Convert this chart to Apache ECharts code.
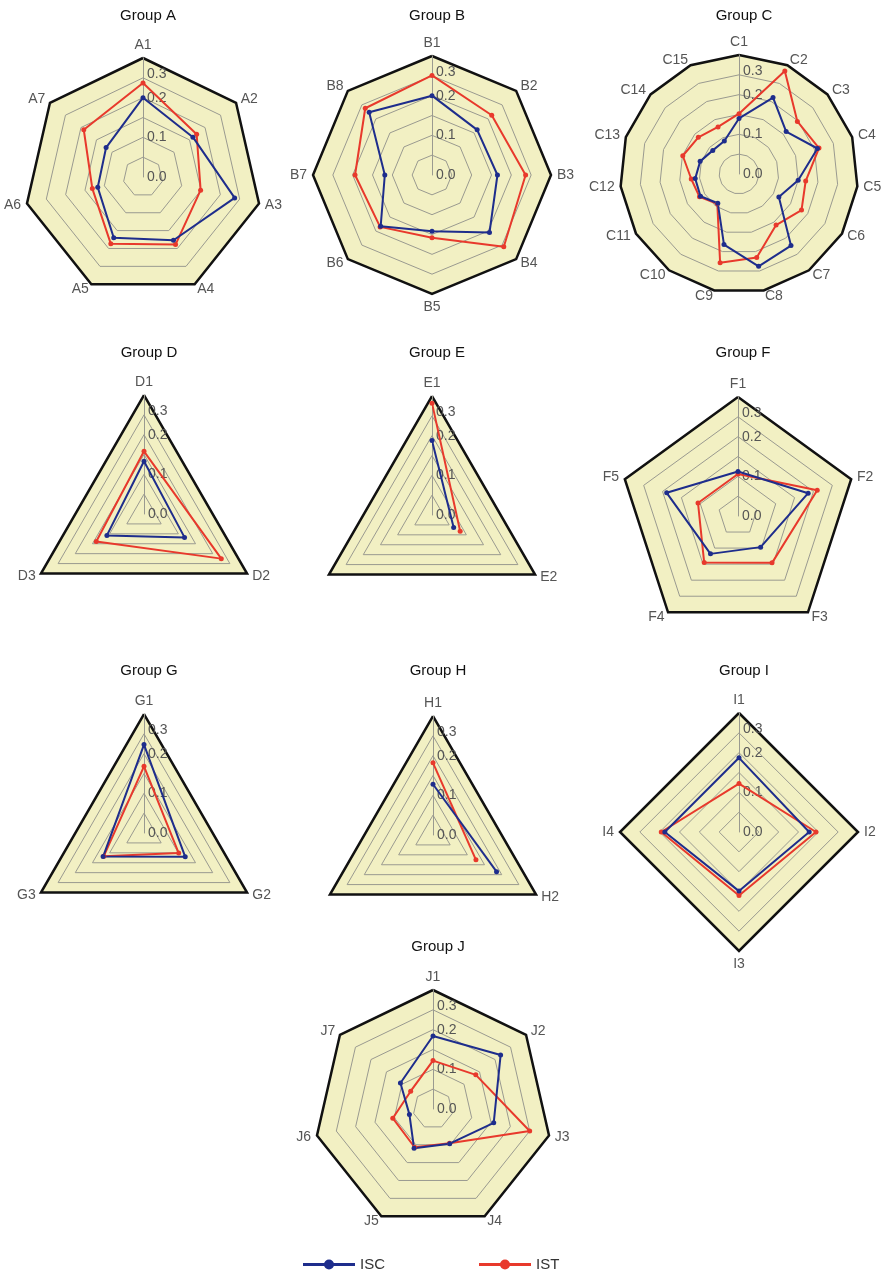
<!DOCTYPE html>
<html>
<head>
<meta charset="utf-8">
<script src="https://cdn.jsdelivr.net/npm/echarts@6/dist/echarts.min.js"></script>
<style>
html,body{margin:0;padding:0;background:#fff;}
#chart{width:886px;height:1273px;}
</style>
</head>
<body>
<div id="chart"></div>
<script>
// ---------------- DATA ----------------
const seriesNames = ['ISC', 'IST'];
const groupTitles = ['Group A','Group B','Group C','Group D','Group E','Group F','Group G','Group H','Group I','Group J'];
const radialTicks = [0.0, 0.1, 0.2, 0.3];

const axesA = ['A1','A2','A3','A4','A5','A6','A7'];
const iscA = [0.200, 0.161, 0.237, 0.177, 0.170, 0.117, 0.119];
const istA = [0.237, 0.173, 0.149, 0.189, 0.187, 0.131, 0.191];

const axesB = ['B1','B2','B3','B4','B5','B6','B7','B8'];
const iscB = [0.200, 0.161, 0.165, 0.205, 0.142, 0.183, 0.119, 0.224];
const istB = [0.251, 0.213, 0.236, 0.256, 0.158, 0.185, 0.194, 0.238];

const axesC = ['C1','C2','C3','C4','C5','C6','C7','C8','C9','C10','C11','C12','C13','C14','C15'];
const iscC = [0.140, 0.211, 0.160, 0.208, 0.150, 0.116, 0.223, 0.238, 0.182, 0.091, 0.112, 0.111, 0.103, 0.089, 0.091];
const istC = [0.152, 0.284, 0.198, 0.212, 0.169, 0.182, 0.159, 0.215, 0.229, 0.093, 0.115, 0.121, 0.149, 0.138, 0.130];

const axesD = ['D1','D2','D3'];
const iscD = [0.133, 0.118, 0.108];
const istD = [0.158, 0.225, 0.139];

const axesE = ['E1','E2',''];
const iscE = [0.188, 0.063];
const istE = [0.282, 0.082];

const axesF = ['F1','F2','F3','F4','F5'];
const iscF = [0.112, 0.186, 0.097, 0.118, 0.189];
const istF = [0.106, 0.210, 0.146, 0.145, 0.106];

const axesG = ['G1','G2','G3'];
const iscG = [0.223, 0.120, 0.119];
const istG = [0.168, 0.101, 0.117];

const axesH = ['H1','H2',''];
const iscH = [0.128, 0.185];
const istH = [0.182, 0.125];

const axesI = ['I1','I2','I3','I4'];
const iscI = [0.187, 0.177, 0.149, 0.187];
const istI = [0.122, 0.194, 0.160, 0.196];

const axesJ = ['J1','J2','J3','J4','J5','J6','J7'];
const iscJ = [0.184, 0.218, 0.157, 0.097, 0.110, 0.061, 0.105];
const istJ = [0.122, 0.138, 0.250, 0.096, 0.107, 0.104, 0.072];

const axisMax = 0.3;

// ---------------- LAYOUT / STYLE ----------------
const groups = [
  {axes: axesA, isc: iscA, ist: istA, open: false},
  {axes: axesB, isc: iscB, ist: istB, open: false},
  {axes: axesC, isc: iscC, ist: istC, open: false},
  {axes: axesD, isc: iscD, ist: istD, open: false},
  {axes: axesE, isc: iscE, ist: istE, open: true},
  {axes: axesF, isc: iscF, ist: istF, open: false},
  {axes: axesG, isc: iscG, ist: istG, open: false},
  {axes: axesH, isc: iscH, ist: istH, open: true},
  {axes: axesI, isc: iscI, ist: istI, open: false},
  {axes: axesJ, isc: iscJ, ist: istJ, open: false}
];
const centers = [
  [143, 177], [432, 175], [739, 174],
  [144, 514], [432, 515], [738, 516],
  [144, 833], [433, 835], [739, 832],
  [433, 1109]
];
const titleTops = [3, 3, 3, 340, 340, 340, 658, 658, 658, 934];
const R = 119;
const colISC = '#1e2d8c';
const colIST = '#e8392c';
const FONT = '"Liberation Sans", Arial, sans-serif';

// ECharts radar places indicators counter-clockwise; the reference goes clockwise.
function cw(arr) { return [arr[0]].concat(arr.slice(1).reverse()); }

const option = {
  animation: false,
  backgroundColor: '#ffffff',
  title: [],
  radar: [],
  polar: [],
  angleAxis: [],
  radiusAxis: [],
  legend: {
    data: seriesNames,
    left: 298,
    top: 1252,
    itemWidth: 52,
    itemHeight: 10,
    itemGap: 94,
    icon: 'path://M0,3.5 L52,3.5 L52,6.5 L0,6.5 Z M21,5 A5,5 0 1,1 31,5 A5,5 0 1,1 21,5 Z',
    textStyle: {fontSize: 15, color: '#333', fontFamily: FONT}
  },
  series: []
};

groups.forEach(function (g, gi) {
  const c = centers[gi];
  option.title.push({
    text: groupTitles[gi],
    left: c[0], top: titleTops[gi], textAlign: 'center',
    textStyle: {fontSize: 15, fontWeight: 'normal', color: '#111', fontFamily: FONT}
  });
  const ind = cw(g.axes).map(function (name, k) {
    const o = {name: name, min: 0, max: axisMax};
    if (k === 0) {
      o.axisLine = {show: true};
      o.axisLabel = {show: true};
    }
    return o;
  });
  // main grid
  option.radar.push({
    center: c, radius: R, shape: 'polygon', splitNumber: 6, startAngle: 90,
    indicator: ind,
    axisName: {color: '#555', fontSize: 14, fontFamily: FONT},
    nameGap: 6,
    splitArea: {show: true, areaStyle: {color: ['#f2f0c3']}},
    splitLine: {lineStyle: {color: '#9a9a90', width: 1}},
    axisLine: {show: false, lineStyle: {color: '#9a9a90', width: 1}},
    axisTick: {show: false},
    axisLabel: {
      show: false, color: '#555', fontSize: 14, fontFamily: FONT, margin: -4, align: 'left',
      formatter: function (v) {
        const t = radialTicks.find(function (x) { return Math.abs(x - v) < 1e-6; });
        if (t === undefined) return '';
        return t === axisMax ? '{edge|' + t.toFixed(1) + '}' : t.toFixed(1);
      },
      rich: {
        edge: {color: '#555', fontSize: 14, fontFamily: FONT, padding: [32, 0, 0, 0]}
      }
    }
  });
  const mainRadarIndex = option.radar.length - 1;
  // outer black border
  option.radar.push({
    center: c, radius: R, shape: 'polygon', splitNumber: 1, startAngle: 90,
    indicator: g.axes.map(function () { return {name: '', min: 0, max: axisMax}; }),
    axisName: {show: false},
    splitArea: {show: false},
    splitLine: {lineStyle: {color: '#111', width: 2.5}},
    axisLine: {show: false},
    axisTick: {show: false},
    axisLabel: {show: false}
  });

  if (!g.open) {
    option.series.push({
      type: 'radar', radarIndex: mainRadarIndex, symbol: 'circle', symbolSize: 5, z: 5,
      data: [
        {name: 'IST', value: cw(g.ist), itemStyle: {color: colIST}, lineStyle: {color: colIST, width: 2}},
        {name: 'ISC', value: cw(g.isc), itemStyle: {color: colISC}, lineStyle: {color: colISC, width: 2}}
      ]
    });
  } else {
    option.polar.push({center: c, radius: R});
    const pi = option.polar.length - 1;
    option.angleAxis.push({
      polarIndex: pi, type: 'category', data: g.axes, boundaryGap: false,
      startAngle: 90, clockwise: true,
      axisLine: {show: false}, axisTick: {show: false}, axisLabel: {show: false}, splitLine: {show: false}
    });
    option.radiusAxis.push({
      polarIndex: pi, min: 0, max: axisMax,
      axisLine: {show: false}, axisTick: {show: false}, axisLabel: {show: false}, splitLine: {show: false}
    });
    option.series.push({
      type: 'line', name: 'IST', coordinateSystem: 'polar', polarIndex: pi, z: 5,
      data: g.ist, symbol: 'circle', symbolSize: 5, showAllSymbol: true,
      itemStyle: {color: colIST}, lineStyle: {color: colIST, width: 2}
    });
    option.series.push({
      type: 'line', name: 'ISC', coordinateSystem: 'polar', polarIndex: pi, z: 5,
      data: g.isc, symbol: 'circle', symbolSize: 5, showAllSymbol: true,
      itemStyle: {color: colISC}, lineStyle: {color: colISC, width: 2}
    });
  }
});

const chart = echarts.init(document.getElementById('chart'), null, {renderer: 'canvas'});
chart.setOption(option);
</script>
</body>
</html>
